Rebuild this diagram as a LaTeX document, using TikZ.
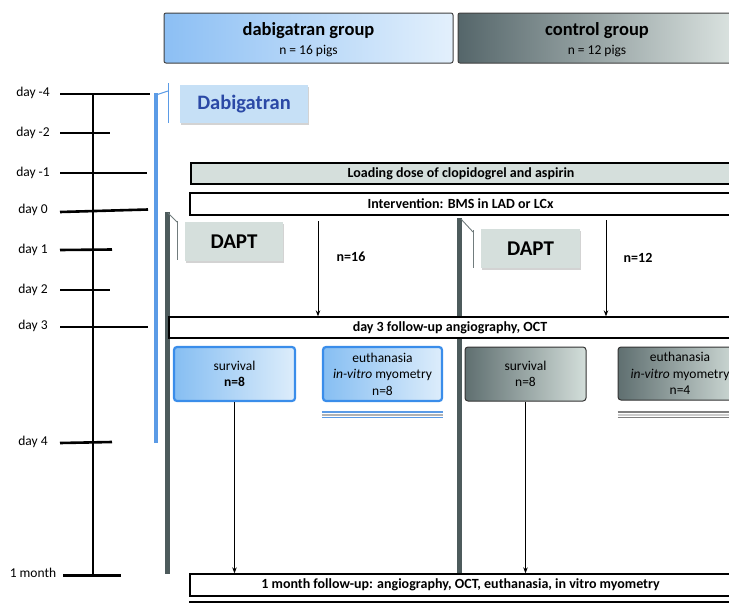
\documentclass[tikz,border=0pt]{standalone}
\usepackage{fontspec}
\setmainfont{Carlito}
\usetikzlibrary{arrows.meta,shadows}
\definecolor{bluebar}{HTML}{5B9BE6}
\definecolor{graybar}{HTML}{4D5B5C}
\definecolor{grayfill}{HTML}{D5DFDC}
\definecolor{dabtext}{HTML}{2B49A6}
\definecolor{dabfill}{HTML}{C6E0F6}
\definecolor{bluebord}{HTML}{3A8DEA}
\definecolor{bluedark}{HTML}{86BEF2}
\definecolor{bluelight}{HTML}{DDEDFB}
\definecolor{graydark}{HTML}{5F6F70}
\definecolor{graylight}{HTML}{D3DEDA}
\definecolor{hdbluedark}{HTML}{8CBFF4}
\definecolor{hdbluelight}{HTML}{E3F0FC}
\definecolor{hdgraydark}{HTML}{55666A}
\definecolor{hdgraylight}{HTML}{DDE5E2}
\begin{document}
\begin{tikzpicture}[x=1pt,y=-1pt,
  box/.style={draw=black,line width=1.3pt,inner sep=0pt,align=center},
  hdr/.style={draw=black!75,line width=1pt,rounded corners=2pt,inner sep=0pt,align=center},
  hdtitle/.style={font=\fontsize{18.5}{20}\selectfont\bfseries,inner sep=0pt},
  hdsub/.style={font=\fontsize{13.5}{14}\selectfont,inner sep=0pt},
  shadowbox/.style={inner sep=0pt,align=center,drop shadow={opacity=0.35,shadow xshift=1.2pt,shadow yshift=-1.5pt}},
  bluegrp/.style={draw=bluebord,line width=2.2pt,rounded corners=3pt,left color=bluedark,right color=bluelight,inner sep=0pt,align=center,font=\fontsize{13.5}{16.5}\selectfont},
  graygrp/.style={draw=black!80,line width=1pt,rounded corners=3pt,left color=graydark,right color=graylight,inner sep=0pt,align=center,font=\fontsize{13.5}{16.5}\selectfont},
  tl/.style={line width=2.6pt,black},
  daylbl/.style={font=\fontsize{13.5}{15}\selectfont,inner sep=0pt},
  arr/.style={line width=1pt,-{Stealth[length=6pt,width=4.5pt]}},
  nlbl/.style={font=\fontsize{14}{16}\selectfont\bfseries,inner sep=0pt}]
\useasboundingbox (0,0) rectangle (729,605);
\clip (0,0) rectangle (729,605);

% header boxes
\node[hdr,left color=hdbluedark,right color=hdbluelight,minimum width=289pt,minimum height=50pt] (hd) at (308.5,38) {};
\node[hdtitle] (hdt) at (308.5,31) {dabigatran group};
\node[hdsub] (hdn) at (308.5,51) {n = 16 pigs};
\node[hdr,left color=hdgraydark,right color=hdgraylight,minimum width=280pt,minimum height=50pt] (hc) at (598,38) {};
\node[hdtitle] (hct) at (597,31) {control group};
\node[hdsub] (hcn) at (597,51) {n = 12 pigs};

% timeline
\draw[tl] (93,93) -- (93,576);
\draw[tl] (60,94) -- (150,94);
\draw[tl] (60,133) -- (110,133);
\draw[tl] (60,173) -- (147,173);
\draw[tl] (60,212) -- (148,209.5);
\draw[tl] (60,250) -- (112,249.5);
\draw[tl] (60,290) -- (110,290);
\draw[tl] (60,327) -- (148,327);
\draw[tl] (60,443) -- (112,442);
\draw[tl] (63,575.5) -- (121,575.5);
\node[daylbl] (lm4) at (33,93) {day -4};
\node[daylbl] (lm2) at (33,133) {day -2};
\node[daylbl] (lm1) at (33,173) {day -1};
\node[daylbl] (l0) at (33,210) {day 0};
\node[daylbl] (l1) at (33,250) {day 1};
\node[daylbl] (l2) at (33,290) {day 2};
\node[daylbl] (l3) at (33,326) {day 3};
\node[daylbl] (l4) at (33,442) {day 4};
\node[daylbl] (lmo) at (33,573) {1 month};

% dabigatran bar
\draw[bluebar,line width=4pt] (155.5,93) -- (155.5,443);
\draw[bluebar,line width=1pt] (156,95) -- (168,91);
\draw[bluebar,line width=1pt] (168,83) -- (168,123);
\node[shadowbox,fill=dabfill,minimum width=128pt,minimum height=38pt,text=dabtext,font=\fontsize{20.5}{22}\selectfont\bfseries] (dab) at (244,104) {Dabigatran};

% loading / intervention
\node[box,fill=grayfill,minimum width=540pt,minimum height=21pt,font=\fontsize{14}{15}\selectfont\bfseries] (load) at (461,173.5) {Loading dose of clopidogrel and aspirin};
\node[box,fill=white,minimum width=541pt,minimum height=22pt,font=\fontsize{14}{15}\selectfont\bfseries] (iv) at (460.5,204) {Intervention: BMS in LAD or LCx};

% DAPT bars
\draw[graybar,line width=5pt] (167,212) -- (167,574);
\draw[graybar!80,line width=0.9pt] (168,213) -- (177,222);
\draw[graybar!80,line width=0.9pt] (177,221) -- (177,260);
\node[shadowbox,fill=grayfill,minimum width=98pt,minimum height=39pt,font=\fontsize{21}{22}\selectfont\bfseries] (dapt1) at (234,241.5) {DAPT};

\draw[graybar,line width=5pt] (459.5,218) -- (459.5,574);
\draw[graybar!80,line width=0.9pt] (461,219) -- (473,232);
\draw[graybar!80,line width=0.9pt] (473,230) -- (473,268);
\node[shadowbox,fill=grayfill,minimum width=99pt,minimum height=39pt,font=\fontsize{21}{22}\selectfont\bfseries] (dapt2) at (530.5,248.5) {DAPT};

% day 3
\node[box,fill=white,minimum width=562pt,minimum height=21pt,font=\fontsize{14}{15}\selectfont\bfseries] (d3) at (450,327.5) {day 3 follow-up angiography, OCT};

% arrows to day 3
\coordinate (a1) at (318,221);
\coordinate (a2) at (606,220);
\draw[arr] (a1) -- (a1 |- d3.north);
\draw[arr] (a2) -- (a2 |- d3.north);
\node[nlbl] (n16) at (351,257) {n=16};
\node[nlbl] (n12) at (638,258) {n=12};

% outcome boxes
\node[bluegrp,minimum width=121pt,minimum height=54pt] (s1) at (234.5,374) {\raisebox{-4pt}{survival}\\\raisebox{-4pt}{\textbf{n=8}}};
\node[bluegrp,minimum width=119pt,minimum height=54pt] (e1) at (382.5,374) {euthanasia\\\textit{in-vitro} myometry\\n=8};
\node[graygrp,minimum width=121pt,minimum height=54pt] (s2) at (525.5,374) {survival\\n=8};
\node[graygrp,minimum width=124pt,minimum height=53pt] (e2) at (680,373.5) {euthanasia\\\textit{in-vitro} myometry\\n=4};

% double lines under euthanasia
\draw[gray!60,line width=2pt] (e1.south west |- 0,414.5) -- (e1.south east |- 0,414.5);
\draw[bluebar,line width=1.8pt] (e1.south west |- 0,412) -- (e1.south east |- 0,412);
\draw[bluebar,line width=1.8pt] (e1.south west |- 0,417.5) -- (e1.south east |- 0,417.5);
\draw[gray!40,line width=2pt] (e2.south west |- 0,414.5) -- (e2.south east |- 0,414.5);
\draw[gray,line width=1.8pt] (e2.south west |- 0,412) -- (e2.south east |- 0,412);
\draw[gray,line width=1.8pt] (e2.south west |- 0,417.5) -- (e2.south east |- 0,417.5);

% 1 month
\node[box,fill=white,minimum width=541pt,minimum height=22pt,font=\fontsize{14}{15}\selectfont\bfseries] (m1) at (460.5,585) {1 month follow-up: angiography, OCT, euthanasia, in vitro myometry};
\draw[line width=2.4pt] (m1.south west |- 0,602) -- (m1.south east |- 0,602);

\draw[arr] (s1.south) -- (s1.south |- m1.north);
\draw[arr] (s2.south) -- (s2.south |- m1.north);
\end{tikzpicture}
\end{document}
